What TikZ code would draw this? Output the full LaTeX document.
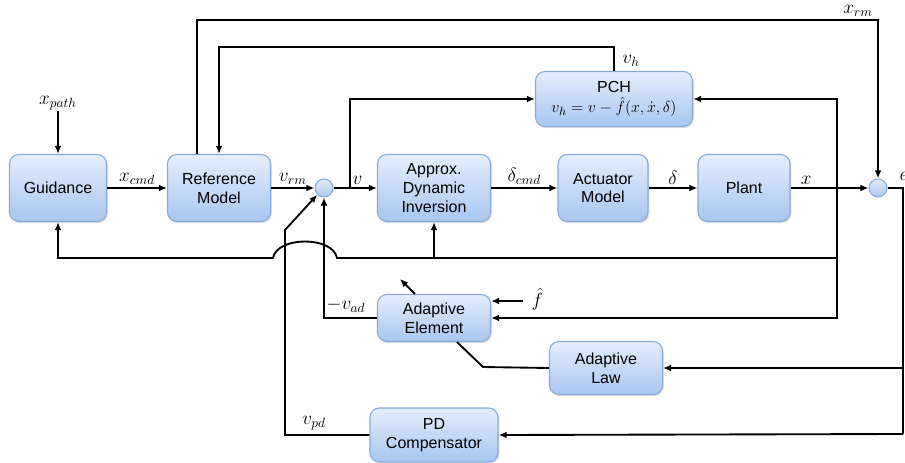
\documentclass[tikz,border=0pt]{standalone}
\usepackage{fontspec}
\setmainfont{Liberation Sans}
\usetikzlibrary{arrows.meta,calc,shadows}
\definecolor{btop}{RGB}{228,238,252}
\definecolor{bbot}{RGB}{168,198,240}
\definecolor{bord}{RGB}{135,170,218}
\tikzset{
  blk/.style={draw=bord, line width=0.8pt, rounded corners=7pt, top color=btop, bottom color=bbot,
    align=center, font=\fontsize{12}{14}\selectfont, inner sep=2pt,
    drop shadow={opacity=0.25, shadow xshift=1pt, shadow yshift=-1.2pt}},
  sumc/.style={circle, draw=bord, line width=0.8pt, top color=btop, bottom color=bbot,
    minimum size=13.5pt, inner sep=0pt},
  conn/.style={line width=1.4pt},
  arr/.style={conn, -{Latex[length=6pt,width=5pt]}},
  lab/.style={font=\fontsize{14.5}{16}\selectfont, inner sep=1pt}
}
\begin{document}
\begin{tikzpicture}[x=0.75pt,y=-0.75pt]
\useasboundingbox (0,0) rectangle (905,463);
\clip (0,0) rectangle (905,463);
% blocks
\node[blk, minimum width=72.75pt, minimum height=50.25pt] (G) at (58,188) {Guidance};
\node[blk, minimum width=77.25pt, minimum height=50.25pt] (RM) at (219,188) {Reference\\Model};
\node[sumc] (S1) at (324,188) {};
\node[blk, minimum width=84.75pt, minimum height=50.25pt] (ADI) at (434,188) {Approx.\\Dynamic\\Inversion};
\node[blk, minimum width=67.5pt, minimum height=50.25pt] (ACT) at (603,188) {Actuator\\Model};
\node[blk, minimum width=69pt, minimum height=50.25pt] (PL) at (744,188) {Plant};
\node[sumc] (S2) at (878,188) {};
\node[blk, minimum width=117.75pt, minimum height=41.25pt] (PCH) at (614,99) {PCH\\[1pt]{\fontsize{13}{15}\selectfont$v_h = v - \hat{f}(x,\dot{x},\delta)$}};
\node[blk, minimum width=84.75pt, minimum height=35.25pt] (AE) at (434,318) {Adaptive\\Element};
\node[blk, minimum width=84.75pt, minimum height=39.75pt] (AL) at (606,368) {Adaptive\\Law};
\node[blk, minimum width=96pt, minimum height=40.5pt] (PD) at (434,435) {PD\\Compensator};
% coordinates
\coordinate (j1) at (350,188);
\coordinate (tap) at (837,188);
\coordinate (t1) at (878,20);
\coordinate (t2) at (219,47);
\coordinate (b1) at (837,258);
\coordinate (bumpR) at (337,258);
\coordinate (bumpL) at (273,258);
\coordinate (eR) at (903,188);
\coordinate (eAL) at (903,368);
\coordinate (eB) at (903,434);
\coordinate (d1) at (285,230);
\coordinate (fh) at (523,301);
\coordinate (k1) at (483,367);
% labels
\node[lab] (xp) at (58,103) {$x_{path}$};
\node[lab] at (858,11) {$x_{rm}$};
\node[lab] at (631,61) {$v_h$};
\node[lab] at (346,305) {$-v_{ad}$};
\node[lab] at (314,423) {$v_{pd}$};
\node[lab, anchor=west] at (530,299) {$\hat{f}$};
\node[lab, anchor=west] at (898,176) {$e$};
% connectors
\draw[arr] (xp.south) -- (G.north);
\draw[arr] (G) -- node[lab, above=1pt]{$x_{cmd}$} (RM);
\draw[arr] (RM) -- node[lab, above=1pt]{$v_{rm}$} (S1);
\draw[arr] (S1) -- node[lab, above=1pt, pos=0.55]{$v$} (ADI);
\draw[arr] (j1) |- (PCH.west);
\draw[arr] (ADI) -- node[lab, above=1pt]{$\delta_{cmd}$} (ACT);
\draw[arr] (ACT) -- node[lab, above=1pt]{$\delta$} (PL);
\draw[arr] (PL) -- node[lab, above=1pt, pos=0.2]{$x$} (S2);
\draw[conn] (S2) -- (eR) -- (eB);
\draw[arr] (eAL) -- (AL.east);
\draw[arr] (eB) -- (PD.east);
\draw[arr] ($(RM.north)+(-22,0)$) |- (t1) -- (S2.north);
\draw[arr] (PCH.north) |- (t2) -- (RM.north);
\draw[arr] (tap) |- (PCH.east);
\draw[arr] (tap) |- (AE.east);
\draw[arr] (b1) -- (bumpR) .. controls (333,236) and (277,236) .. (bumpL) -| (G.south);
\draw[arr] (ADI.south |- b1) -- (ADI.south);
\draw[arr] (AE.west) -| (S1.south);
\draw[arr] (PD.west) -| (d1) -- (S1.south west);
\draw[arr] (fh) -- (AE.east |- fh);
\draw[arr] ($(AE.north)+(-19,0)$) -- ++(-15,-15);
\draw[conn] ($(AE.south)+(23,0)$) -- (k1) -- (AL.west);
\end{tikzpicture}
\end{document}
